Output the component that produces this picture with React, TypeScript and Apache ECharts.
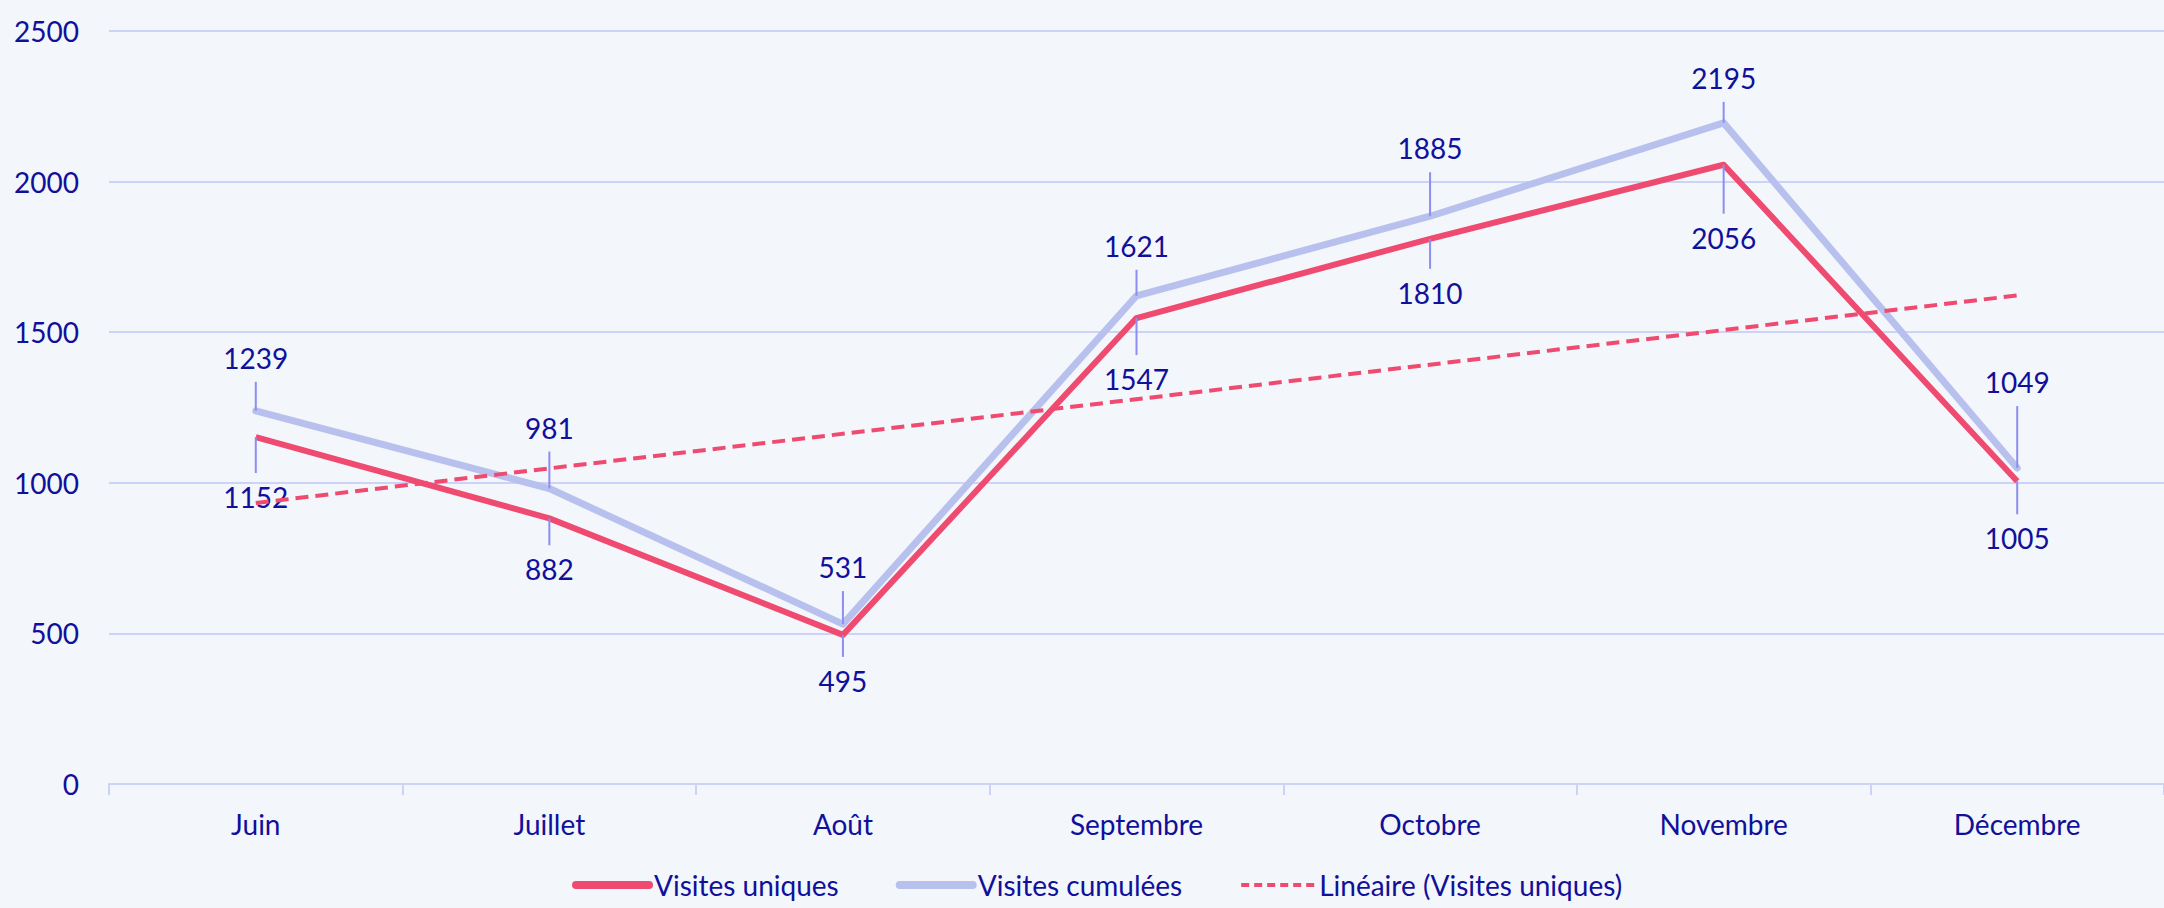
import React, { useEffect, useRef } from "react";
import * as echarts from "echarts";

const categories = ["Juin", "Juillet", "Août", "Septembre", "Octobre", "Novembre", "Décembre"];
const visitesUniques = [1152, 882, 495, 1547, 1810, 2056, 1005];
const visitesCumulees = [1239, 981, 531, 1621, 1885, 2195, 1049];
// linear trend of "Visites uniques": end points
const trendStart = 933;
const trendEnd = 1622;
const yMin = 0;
const yMax = 2500;
const yInterval = 500;

// label placement (pixels from the point, as placed in the reference)
const offsetsUniques = [60, 51, 46, 61, 54, 73, 57];
const offsetsCumulees = [-53, -61, -57, -50, -68, -45, -86];

const TEXT = "#10109A";
const RED = "#EF4A6F";
const LAV = "#B8C1EE";
const GRID = "#CDD2F7";
const LEADER = "#8C8EF0";
const FONT = "Lato, 'Open Sans', sans-serif";

function leaderSeries(name: string, values: number[], offsets: number[]) {
  return {
    name,
    type: "custom",
    z: 6,
    silent: true,
    encode: { x: 0, y: 1 },
    data: values.map((v, i) => [i, v, offsets[i]]),
    renderItem: (_params: any, api: any) => {
      const p = api.coord([api.value(0), api.value(1)]);
      const dy = api.value(2) as number;
      const dir = dy > 0 ? 1 : -1;
      const endY = p[1] + dy - dir * 24;
      return {
        type: "group",
        children: [
          {
            type: "line",
            shape: { x1: p[0], y1: p[1], x2: p[0], y2: endY },
            style: { stroke: LEADER, lineWidth: 2 },
          },
          {
            type: "text",
            x: p[0],
            y: p[1] + dy,
            style: {
              text: String(api.value(1)),
              fontSize: 28,
              fontFamily: FONT,
              fill: TEXT,
              align: "center",
              verticalAlign: "middle",
            },
          },
        ],
      };
    },
  };
}

export default function App() {
  const ref = useRef<HTMLDivElement>(null);

  useEffect(() => {
    if (!ref.current) return;
    const chart = echarts.init(ref.current, undefined, { renderer: "svg" });
    const trendData = categories.map((_, i) =>
      i === 0 ? trendStart : i === categories.length - 1 ? trendEnd : null
    );
    const hiddenSymbol = { opacity: 0, color: "transparent", borderWidth: 0 };
    chart.setOption({
      animation: false,
      backgroundColor: "#F3F6FB",
      textStyle: { fontFamily: FONT },
      grid: { left: 109, right: -12, top: 31, bottom: 124, containLabel: false },
      legend: {
        left: 567,
        top: 866,
        itemWidth: 73,
        itemHeight: 14,
        itemGap: 57,
        selectedMode: false,
        textStyle: { fontSize: 28, color: TEXT, fontFamily: FONT },
        data: [
          { name: "Visites uniques", itemStyle: hiddenSymbol, lineStyle: { width: 8, cap: "round" } },
          { name: "Visites cumulées", itemStyle: hiddenSymbol, lineStyle: { width: 8, cap: "round" } },
          { name: "Linéaire (Visites uniques)", itemStyle: hiddenSymbol, lineStyle: { width: 4, type: [8, 5] } },
        ],
      },
      xAxis: {
        type: "category",
        data: categories,
        boundaryGap: true,
        axisLine: { show: true, lineStyle: { color: GRID, width: 2 } },
        axisTick: { show: true, length: 11, lineStyle: { color: GRID, width: 2 } },
        axisLabel: { color: TEXT, fontSize: 28, fontFamily: FONT, margin: 26 },
        splitLine: { show: false },
      },
      yAxis: {
        type: "value",
        min: yMin,
        max: yMax,
        interval: yInterval,
        axisLine: { show: false },
        axisTick: { show: false },
        axisLabel: {
          color: TEXT,
          fontSize: 28,
          fontFamily: FONT,
          margin: 30,
          formatter: (v: number) => String(v),
        },
        splitLine: { show: true, lineStyle: { color: GRID, width: 2 } },
      },
      series: [
        {
          name: "Visites uniques",
          type: "line",
          data: visitesUniques,
          symbol: "none",
          z: 4,
          lineStyle: { color: RED, width: 6, join: "round" },
          itemStyle: { color: RED },
        },
        {
          name: "Visites cumulées",
          type: "line",
          data: visitesCumulees,
          symbol: "none",
          z: 3,
          lineStyle: { color: LAV, width: 7, join: "round", cap: "round" },
          itemStyle: { color: LAV },
        },
        {
          name: "Linéaire (Visites uniques)",
          type: "line",
          data: trendData,
          connectNulls: true,
          symbol: "none",
          z: 7,
          lineStyle: { color: RED, width: 4, type: [13, 7] },
          itemStyle: { color: RED },
        },
        leaderSeries("labels-uniques", visitesUniques, offsetsUniques),
        leaderSeries("labels-cumulees", visitesCumulees, offsetsCumulees),
      ],
    });
    return () => chart.dispose();
  }, []);

  return (
    <div
      ref={ref}
      style={{ position: "fixed", left: 0, top: 0, width: 2164, height: 908, background: "#F3F6FB" }}
    />
  );
}
